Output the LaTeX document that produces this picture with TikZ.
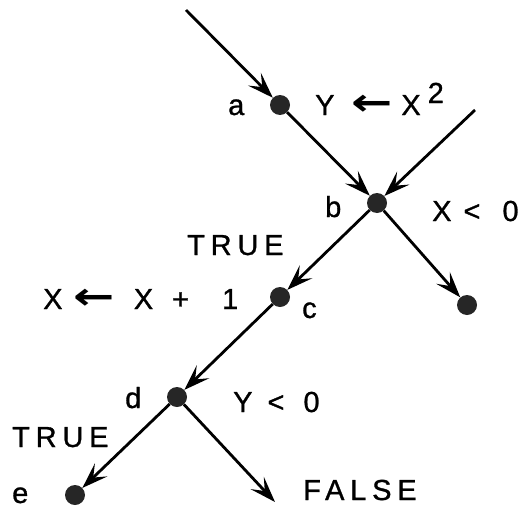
\documentclass[tikz,border=0pt]{standalone}
\usepackage{fontspec}
\setmainfont{Liberation Sans}[FakeBold=1]
\newfontfamily\arrowfont{DejaVu Sans}
\usetikzlibrary{arrows.meta,positioning}

\newcommand{\larr}{{\arrowfont\bfseries\scalebox{1.7}[1.3]{←}}}

\begin{document}
\begin{tikzpicture}[x=1pt, y=-1pt,
  dot/.style={circle, fill=black!85, inner sep=0pt, minimum size=20pt},
  flow/.style={line width=2.8pt, -{Stealth[length=26pt, width=18pt, inset=11pt]}},
  lab/.style={font=\fontsize{29}{34}\selectfont, inner sep=0pt, anchor=base west},
  word/.style={lab, font=\fontsize{29}{34}\selectfont\addfontfeatures{LetterSpace=20}}
]
\useasboundingbox (0,0) rectangle (526,508);

% branch points
\node[dot] (a) at (280,105) {};
\node[dot] (b) at (377,203) {};
\node[dot] (c) at (280,297) {};
\node[dot] (d) at (177,397) {};
\node[dot] (e) at (75,495) {};
\node[dot] (bx) at (467,305) {};

\coordinate (in1) at (186,10);
\coordinate (in2) at (475,110);
\coordinate (dx) at (275,502);

% connectors
\draw[flow] (in1) -- (a);
\draw[flow] (a) -- (b);
\draw[flow] (in2) -- (b);
\draw[flow] (b) -- (c);
\draw[flow] (b) -- (bx);
\draw[flow] (c) -- (d);
\draw[flow] (d) -- (e);
\draw[flow] (d) -- (dx);

% labels
\node[lab] (la) at (228,115) {a};
\node[lab] (sa) at (315,115) {Y\hspace{16.5pt}\larr\hspace{9pt}X\hspace{7pt}\raisebox{12pt}{2}};
\node[lab] (lb) at (325,217) {b};
\node[lab] (tb) at (432,221) {X\hspace{12pt}<\hspace{22pt}0};
\node[word] (tt) at (187,255) {TRUE};
\node[lab] (sc) at (43,309) {X\hspace{11pt}\larr\hspace{19pt}X\hspace{19pt}+\hspace{33pt}1};
\node[lab] (lc) at (302,318) {c};
\node[lab] (ld) at (125,408) {d};
\node[lab] (td) at (233,412) {Y\hspace{15pt}<\hspace{19pt}0};
\node[word] (tt2) at (12,447) {TRUE};
\node[lab] (le) at (12,503) {e};
\node[word] (tf) at (303,500) {FALSE};

\end{tikzpicture}
\end{document}
